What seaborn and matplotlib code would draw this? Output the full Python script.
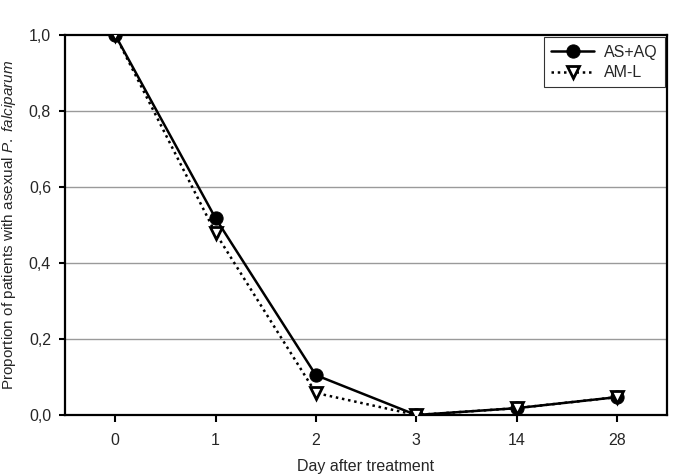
import matplotlib
matplotlib.use("Agg")
import matplotlib.pyplot as plt
import seaborn as sns
import numpy as np
import pandas as pd

days = ["0", "1", "2", "3", "14", "28"]
as_aq = [1.0, 0.518, 0.105, 0.0, 0.018, 0.047]
am_l = [1.0, 0.479, 0.058, 0.0, 0.018, 0.047]
yticks = [0.0, 0.2, 0.4, 0.6, 0.8, 1.0]
ytick_labels = ["0,0", "0,2", "0,4", "0,6", "0,8", "1,0"]

sns.set_style("white")
plt.rcParams['font.family'] = ['Liberation Sans', 'DejaVu Sans']
plt.rcParams['mathtext.fontset'] = 'custom'
plt.rcParams['mathtext.rm'] = 'Liberation Sans'
plt.rcParams['mathtext.it'] = 'Liberation Sans:italic'

FS = 11.5

fig = plt.figure(figsize=(6.85, 4.76), dpi=100)
ax = fig.add_axes([65/685, 1-415/476, (667-65)/685, (415-35)/476])

pos = np.arange(len(days))
df = pd.DataFrame({"pos": pos, "AS+AQ": as_aq, "AM-L": am_l})

for y in yticks[1:-1]:
    ax.axhline(y, color="#9a9a9a", lw=1.0, zorder=0)

sns.lineplot(data=df, x="pos", y="AS+AQ", ax=ax, color="black", lw=1.8,
             marker="o", markersize=9.5, markerfacecolor="black",
             markeredgecolor="black", label="AS+AQ", zorder=3)
sns.lineplot(data=df, x="pos", y="AM-L", ax=ax, color="black", lw=1.8,
             linestyle=(0, (1, 1.5)), marker="v", markersize=8,
             markerfacecolor="white", markeredgecolor="black",
             markeredgewidth=2, label="AM-L", zorder=4)

ax.set_xlim(-0.5, 5.5)
ax.set_ylim(0, 1.0)
ax.set_xticks(pos)
ax.set_xticklabels(days)
ax.set_yticks(yticks)
ax.set_yticklabels(ytick_labels)
ax.tick_params(axis="x", direction="out", length=5, width=1.5,
               labelsize=FS, color="black", pad=8, bottom=True)
ax.tick_params(axis="y", direction="out", length=4, width=1.5,
               labelsize=FS, color="black", pad=6, left=True)
for s in ax.spines.values():
    s.set_visible(True)
    s.set_color("black")
    s.set_linewidth(1.6)

ax.set_xlabel("Day after treatment", fontsize=FS, labelpad=8)
ax.set_ylabel(r"Proportion of patients with asexual $\it{P.\ falciparum}$",
              fontsize=11, labelpad=8)

leg = ax.legend(loc="upper right", frameon=True, fancybox=False,
                edgecolor="black", fontsize=FS, handlelength=2.7,
                borderaxespad=0.15, borderpad=0.45, labelspacing=0.35,
                handletextpad=0.6)
leg.get_frame().set_linewidth(0.8)

fig.savefig("out.png", dpi=100)
